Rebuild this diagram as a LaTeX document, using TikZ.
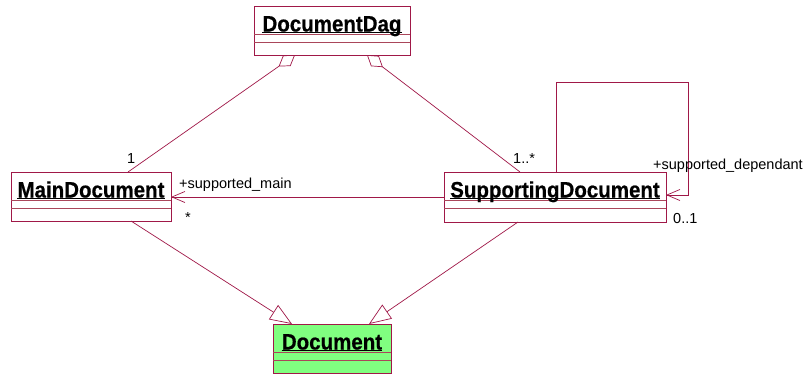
\documentclass[tikz,border=0pt]{standalone}
\usepackage{fontspec}
\setmainfont{Liberation Sans}
\newfontfamily\namefont{Liberation Sans Bold}[FakeBold=0.6]
\usetikzlibrary{arrows.meta,calc}

\definecolor{umlline}{RGB}{160,24,72}
\definecolor{umlcomp}{RGB}{170,70,90}
\definecolor{docgreen}{RGB}{128,255,128}

\tikzset{
  classbox/.style={draw=umlline, line width=0.9pt, inner sep=0pt, outer sep=0pt, anchor=north west},
  compline/.style={draw=umlcomp, line width=0.8pt},
  classname/.style={font=\fontsize{20.5}{22}\namefont, inner sep=0pt, anchor=base},
  underl/.style={draw=black, line width=1pt},
  rolelabel/.style={font=\fontsize{14.5}{16}\selectfont, inner sep=0pt, anchor=base west},
  assoc/.style={draw=umlline, line width=0.7pt},
  aggregation/.style={assoc, -{Diamond[open, length=20pt, width=13pt]}},
  generalization/.style={assoc, -{Triangle[open, length=22pt, width=17pt]}},
  navigable/.style={assoc, -{Straight Barb[length=13pt, width=11pt]}},
}

% class box: name, left, top, width, height, fill, title
\newcommand\umlclass[7]{%
  \node[classbox, fill=#6, minimum width=#4pt, minimum height=#5pt] (#1) at (#2,#3) {};
  \draw[compline] ($(#1.north west)+(0,28)$) -- ($(#1.north east)+(0,28)$);
  \draw[compline] ($(#1.north west)+(0,36)$) -- ($(#1.north east)+(0,36)$);
  \node[classname] (#1-name) at ($(#1.north)+(0,25.5)$) {\scalebox{1}[1.09]{#7}};
  \draw[underl] ($(#1-name.base west)+(0,1)$) -- ($(#1-name.base east)+(0,1)$);
}

\begin{document}
\begin{tikzpicture}[x=1pt, y=-1pt]
  \useasboundingbox[fill=white] (0,0) rectangle (811,376);

  \umlclass{dag}{254}{6}{156}{49}{white}{DocumentDag}
  \umlclass{main}{11}{172}{160}{49}{white}{MainDocument}
  \umlclass{sup}{444}{172}{222}{50}{white}{SupportingDocument}
  \umlclass{doc}{273}{324}{118}{49}{docgreen}{Document}

  % aggregations into DocumentDag
  \draw[aggregation] ($(main.north west)+(117,0)$) -- ($(dag.south west)+(41,0)$);
  \draw[aggregation] ($(sup.north west)+(76,0)$) -- ($(dag.south west)+(113,0)$);

  % generalizations to Document
  \draw[generalization] ($(main.south west)+(120,0)$) -- ($(doc.north west)+(19,0)$);
  \draw[generalization] ($(sup.south west)+(74,0)$) -- ($(doc.north west)+(96,0)$);

  % navigable associations
  \draw[navigable] ($(sup.north west)+(0,25)$) -- ($(main.north east)+(0,25)$);
  \draw[navigable] ($(sup.north west)+(112,0)$) -- ++(0,-90) -- ++(132,0) -- ++(0,113)
    -- ($(sup.north east)+(0,23)$);

  % multiplicities and role names
  \node[rolelabel] (m1) at (127,163) {1};
  \node[rolelabel] (m2) at (513,163) {1..*};
  \node[rolelabel] (r1) at (179,188) {+supported\_main};
  \node[rolelabel] (m3) at (185,222) {*};
  \node[rolelabel] (r2) at (653,169) {+supported\_dependant};
  \node[rolelabel] (m4) at (673,223) {0..1};
\end{tikzpicture}
\end{document}
